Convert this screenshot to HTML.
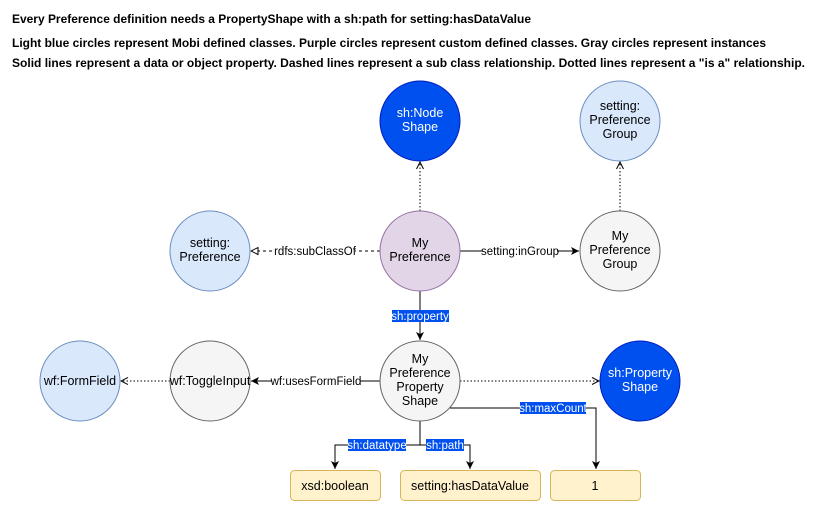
<!DOCTYPE html>
<html><head><style>
body{margin:0;background:#fff;}
svg text{font-family:"Liberation Sans",Arial,sans-serif;}
</style></head><body>
<svg width="821" height="511" viewBox="0 0 821 511" xmlns="http://www.w3.org/2000/svg">
<defs>
<marker id="a" markerWidth="10" markerHeight="10" refX="9" refY="5" orient="auto" markerUnits="userSpaceOnUse"><path d="M1,1 L9,5 L1,9 L3,5 Z" fill="#000"/></marker>
<marker id="o" markerWidth="10" markerHeight="10" refX="9" refY="5" orient="auto" markerUnits="userSpaceOnUse"><path d="M2,1.5 L9,5 L2,8.5" fill="none" stroke="#000" stroke-width="1"/></marker>
<marker id="t" markerWidth="10" markerHeight="10" refX="9" refY="5" orient="auto" markerUnits="userSpaceOnUse"><path d="M2,1.5 L9,5 L2,8.5 Z" fill="#fff" stroke="#000" stroke-width="1"/></marker>
</defs>
<g font-size="12" font-weight="bold" fill="#000">
<text x="12" y="23" textLength="519" lengthAdjust="spacingAndGlyphs">Every Preference definition needs a PropertyShape with a sh:path for setting:hasDataValue</text>
<text x="12" y="47" textLength="754" lengthAdjust="spacingAndGlyphs">Light blue circles represent Mobi defined classes. Purple circles represent custom defined classes. Gray circles represent instances</text>
<text x="12" y="67" textLength="793" lengthAdjust="spacingAndGlyphs">Solid lines represent a data or object property. Dashed lines represent a sub class relationship. Dotted lines represent a "is a" relationship.</text>
</g>
<g stroke="#000" fill="none" stroke-width="1">
<line x1="420" y1="211" x2="420" y2="162" stroke-dasharray="1.5,2" marker-end="url(#o)"/>
<line x1="620" y1="211" x2="620" y2="162" stroke-dasharray="1.5,2" marker-end="url(#o)"/>
<line x1="380" y1="251" x2="251" y2="251" stroke-dasharray="3,3" marker-end="url(#t)"/>
<line x1="460" y1="251" x2="579" y2="251" marker-end="url(#a)"/>
<line x1="420" y1="291" x2="420" y2="340" marker-end="url(#a)"/>
<line x1="380" y1="381" x2="251" y2="381" marker-end="url(#a)"/>
<line x1="170" y1="381" x2="121" y2="381" stroke-dasharray="1.5,2" marker-end="url(#o)"/>
<line x1="460" y1="381" x2="599" y2="381" stroke-dasharray="1.5,2" marker-end="url(#o)"/>
<polyline points="450,408 596,408 596,469" marker-end="url(#a)"/>
<polyline points="420,421 420,445 335,445 335,469" marker-end="url(#a)"/>
<polyline points="420,445 470,445 470,469" marker-end="url(#a)"/>
</g>
<g stroke-width="1">
<circle cx="420" cy="121" r="40" fill="#0050ef" stroke="#001dbc"/>
<circle cx="620" cy="121" r="40" fill="#dae8fc" stroke="#6c8ebf"/>
<circle cx="210" cy="251" r="40" fill="#dae8fc" stroke="#6c8ebf"/>
<circle cx="420" cy="251" r="40" fill="#e1d5e7" stroke="#9673a6"/>
<circle cx="620" cy="251" r="40" fill="#f5f5f5" stroke="#666"/>
<circle cx="80" cy="381" r="40" fill="#dae8fc" stroke="#6c8ebf"/>
<circle cx="210" cy="381" r="40" fill="#f5f5f5" stroke="#666"/>
<circle cx="420" cy="381" r="40" fill="#f5f5f5" stroke="#666"/>
<circle cx="640" cy="381" r="40" fill="#0050ef" stroke="#001dbc"/>
<rect x="290.5" y="470.5" width="90" height="30" rx="4" fill="#fff2cc" stroke="#d6b656"/>
<rect x="400.5" y="470.5" width="140" height="30" rx="4" fill="#fff2cc" stroke="#d6b656"/>
<rect x="550.5" y="470.5" width="90" height="30" rx="4" fill="#fff2cc" stroke="#d6b656"/>
</g>
<g font-size="12.5" text-anchor="middle" fill="#000">
<text x="420" y="117" fill="#fff">sh:Node</text><text x="420" y="131" fill="#fff">Shape</text>
<text x="620" y="110">setting:</text><text x="620" y="124">Preference</text><text x="620" y="138">Group</text>
<text x="210" y="247">setting:</text><text x="210" y="261">Preference</text>
<text x="420" y="247">My</text><text x="420" y="261">Preference</text>
<text x="620" y="240">My</text><text x="620" y="254">Preference</text><text x="620" y="268">Group</text>
<text x="80" y="385">wf:FormField</text>
<text x="210" y="385">wf:ToggleInput</text>
<text x="420" y="363">My</text><text x="420" y="377">Preference</text><text x="420" y="391">Property</text><text x="420" y="405">Shape</text>
<text x="640" y="377" fill="#fff">sh:Property</text><text x="640" y="391" fill="#fff">Shape</text>
<text x="335" y="490">xsd:boolean</text>
<text x="470" y="490">setting:hasDataValue</text>
<text x="595" y="490">1</text>
</g>
<g font-size="11.5" text-anchor="middle">
<rect x="275" y="245" width="80" height="13" fill="#fff"/><text x="315" y="255">rdfs:subClassOf</text>
<rect x="483" y="245" width="74" height="13" fill="#fff"/><text x="520" y="255">setting:inGroup</text>
<rect x="272" y="375" width="88" height="13" fill="#fff"/><text x="316" y="385">wf:usesFormField</text>
<rect x="392" y="310" width="57" height="12" fill="#0050ef"/><text x="420" y="320" fill="#fff">sh:property</text>
<rect x="520" y="402" width="66" height="12" fill="#0050ef"/><text x="553" y="412" fill="#fff">sh:maxCount</text>
<rect x="348" y="439" width="58" height="12" fill="#0050ef"/><text x="377" y="449" fill="#fff">sh:datatype</text>
<rect x="426" y="439" width="38" height="12" fill="#0050ef"/><text x="445" y="449" fill="#fff">sh:path</text>
</g>
</svg>
</body></html>
